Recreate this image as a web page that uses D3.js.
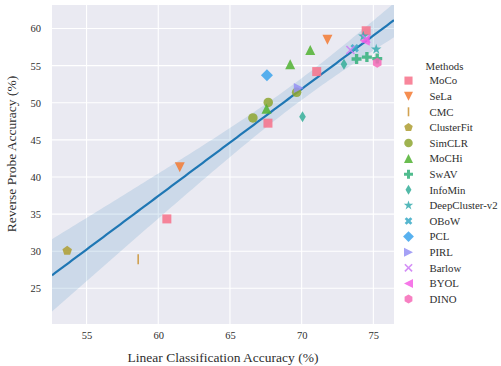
<!DOCTYPE html>
<html><head><meta charset="utf-8">
<script src="https://cdn.jsdelivr.net/npm/d3@7"></script>
<style>body{margin:0;background:#fff}svg{display:block}text{font-family:"Liberation Serif","DejaVu Serif",serif;fill:#2e2e2e}</style>
</head><body><svg id="c" width="501" height="366"></svg>
<script>
// ---- data ----
const methods = ["MoCo","SeLa","CMC","ClusterFit","SimCLR","MoCHi","SwAV","InfoMin","DeepCluster-v2","OBoW","PCL","PIRL","Barlow","BYOL","DINO"];
const markerTypes = ["s","v","|","p","o","^","P","d","*","X","D",">","x","<","h"];
const MoCo = [[74.5,59.7],[71.05,54.2],[67.65,47.25],[60.6,34.35]];
const SeLa = [[71.8,58.5],[61.5,41.3]];
const CMC = [[58.6,28.9]];
const ClusterFit = [[53.65,30.05]];
const SimCLR = [[69.65,51.4],[67.67,50.05],[66.6,47.95]];
const MoCHi = [[70.6,57.1],[69.2,55.2],[67.55,49.2]];
const SwAV = [[73.83,55.9],[74.55,56.15],[75.27,55.95]];
const InfoMin = [[72.95,55.2],[70.06,48.1]];
const DeepClusterV2 = [[74.3,58.95],[75.2,57.2]];
const OBoW = [[73.7,57.35]];
const PCL = [[67.58,53.7]];
const PIRL = [[69.8,52.0]];
const Barlow = [[73.4,57.1],[74.5,58.6]];
const BYOL = [[74.4,58.35]];
const DINO = [[75.27,55.4]];
const seriesValues = [MoCo,SeLa,CMC,ClusterFit,SimCLR,MoCHi,SwAV,InfoMin,DeepClusterV2,OBoW,PCL,PIRL,Barlow,BYOL,DINO];
const xTicks = [55,60,65,70,75];
const yTicks = [25,30,35,40,45,50,55,60];
const xLabel = "Linear Classification Accuracy (%)";
const yLabel = "Reverse Probe Accuracy (%)";
const legendTitle = "Methods";

// ---- HUSL palette (seaborn husl_palette) ----
function huslToRgb(H,S,L){
  const M=[[3.240969941904521,-1.537383177570093,-0.498610760293],[-0.96924363628087,1.87596750150772,0.041555057407175],[0.055630079696993,-0.20397695888897,1.056971514242878]];
  const kappa=903.2962962,eps=0.0088564516,refU=0.19783000664283,refV=0.46831999493879;
  function bounds(L){const s1=Math.pow(L+16,3)/1560896;const s2=s1>eps?s1:L/kappa;const r=[];
    for(let c=0;c<3;c++){const [m1,m2,m3]=M[c];for(let t=0;t<2;t++){const top1=(284517*m1-94839*m3)*s2;const top2=(838422*m3+769860*m2+731718*m1)*L*s2-769860*t*L;const bot=(632260*m3-126452*m2)*s2+126452*t;r.push([top1/bot,top2/bot]);}}return r;}
  const hr=H/360*2*Math.PI;let mx=Infinity;
  for(const [sl,ic] of bounds(L)){const len=ic/(Math.sin(hr)-sl*Math.cos(hr));if(len>=0)mx=Math.min(mx,len);}
  const C=mx/100*S;const U=C*Math.cos(hr),V=C*Math.sin(hr);
  const vu=U/(13*L)+refU,vv=V/(13*L)+refV;
  const Y=L<=8?L/kappa:Math.pow((L+16)/116,3);
  const X=0-(9*Y*vu)/((vu-4)*vv-vu*vv);
  const Z=(9*Y-15*vv*Y-vv*X)/(3*vv);
  const f=c=>c<=0.0031308?12.92*c:1.055*Math.pow(c,1/2.4)-0.055;
  const rgb=M.map(m=>Math.max(0,Math.min(1,f(m[0]*X+m[1]*Y+m[2]*Z))));
  return d3.rgb(rgb[0]*255,rgb[1]*255,rgb[2]*255).formatHex();
}
const palette = methods.map((m,i)=>{let h=(i/methods.length+0.01)%1;return huslToRgb(h*359,0.9*99,0.65*99);});

// ---- layout ----
const svg=d3.select("#c");
const x=d3.scaleLinear().domain([52.59,76.44]).range([52,394]);
const y=d3.scaleLinear().domain([20.19,63.17]).range([324,5]);
svg.append("defs").append("clipPath").attr("id","clip").append("rect")
  .attr("x",52).attr("y",5).attr("width",342).attr("height",319);
svg.append("rect").attr("x",52).attr("y",5).attr("width",342).attr("height",319).attr("fill","#eaeaf2");
const grid=svg.append("g");
grid.selectAll(".gx").data(xTicks).join("line").attr("x1",d=>x(d)).attr("x2",d=>x(d)).attr("y1",5).attr("y2",324).attr("stroke","#fff").attr("stroke-width",1.1);
grid.selectAll(".gy").data(yTicks).join("line").attr("y1",d=>y(d)).attr("y2",d=>y(d)).attr("x1",52).attr("x2",394).attr("stroke","#fff").attr("stroke-width",1.1);

// axes
const xa=svg.append("g").attr("transform","translate(0,324)").call(d3.axisBottom(x).tickValues(xTicks).tickSize(0).tickPadding(8));
const ya=svg.append("g").attr("transform","translate(52,0)").call(d3.axisLeft(y).tickValues(yTicks).tickSize(0).tickPadding(11));
[xa,ya].forEach(a=>{a.select(".domain").remove();a.selectAll("text").style("font-family","'Liberation Serif',serif").attr("font-size",10.5).attr("fill","#2e2e2e");});
svg.append("text").attr("x",223).attr("y",362).attr("text-anchor","middle").attr("font-size",13.5).text(xLabel);
svg.append("text").attr("transform","translate(16,154) rotate(-90)").attr("text-anchor","middle").attr("font-size",13.5).text(yLabel);

// regression (OLS with widened confidence band, approximating seaborn's bootstrap CI)
const pts=[];seriesValues.forEach(s=>s.forEach(p=>pts.push(p)));
const n=pts.length,mx=d3.mean(pts,p=>p[0]),my=d3.mean(pts,p=>p[1]);
let sxx=0,sxy=0;pts.forEach(p=>{sxx+=(p[0]-mx)**2;sxy+=(p[0]-mx)*(p[1]-my);});
const b=sxy/sxx,a=my-b*mx;
let sse=0;pts.forEach(p=>{sse+=(p[1]-a-b*p[0])**2;});
const se=Math.sqrt(sse/(n-2)),tq=2.7;
const xs=d3.range(0,101).map(i=>52.59+(76.44-52.59)*i/100);
const band=xs.map(v=>{const yh=a+b*v;const h=tq*se*Math.sqrt(1/n+(v-mx)**2/sxx);return [v,yh-h,yh+h];});
const reg=svg.append("g").attr("clip-path","url(#clip)");
reg.append("path").datum(band).attr("d",d3.area().x(d=>x(d[0])).y0(d=>y(d[1])).y1(d=>y(d[2]))).attr("fill","#1f77b4").attr("fill-opacity",0.15);
reg.append("path").datum(xs).attr("d",d3.line().x(v=>x(v)).y(v=>y(a+b*v))).attr("fill","none").attr("stroke","#1f77b4").attr("stroke-width",2.2);

// markers
function markerPath(t,r){
  const p=d3.path();
  const poly=(arr)=>{arr.forEach((q,i)=>i?p.lineTo(q[0],q[1]):p.moveTo(q[0],q[1]));p.closePath();};
  const reg=(k,R,off)=>{const arr=[];for(let i=0;i<k;i++){const ang=off+i*2*Math.PI/k;arr.push([R*Math.sin(ang),-R*Math.cos(ang)]);}poly(arr);};
  switch(t){
    case "s":{const s=r*0.9;poly([[-s,-s],[s,-s],[s,s],[-s,s]]);break;}
    case "v":poly([[0,r],[-r,-r],[r,-r]]);break;
    case "^":poly([[0,-r],[-r,r],[r,r]]);break;
    case ">":poly([[r,0],[-r,-r],[-r,r]]);break;
    case "<":poly([[-r,0],[r,-r],[r,r]]);break;
    case "p":reg(5,r,0);break;
    case "h":reg(6,r,0);break;
    case "o":p.arc(0,0,r*0.95,0,2*Math.PI);break;
    case "D":{const s=r*1.2;poly([[0,-s],[s,0],[0,s],[-s,0]]);break;}
    case "d":{const s=r*1.1;poly([[0,-s],[s*0.6,0],[0,s],[-s*0.6,0]]);break;}
    case "P":{const w=r/3;poly([[-w,-r],[w,-r],[w,-w],[r,-w],[r,w],[w,w],[w,r],[-w,r],[-w,w],[-r,w],[-r,-w],[-w,-w]]);break;}
    case "X":{const w=r*0.3,s=r*0.9,arr=[];const base=[[-w,-s],[w,-s],[w,-w],[s,-w],[s,w],[w,w],[w,s],[-w,s],[-w,w],[-s,w],[-s,-w],[-w,-w]];const c=Math.SQRT1_2;base.forEach(q=>arr.push([(q[0]-q[1])*c,(q[0]+q[1])*c]));poly(arr);break;}
    case "*":{const arr=[];for(let i=0;i<10;i++){const R=i%2?r*0.42:r*1.1;const ang=i*Math.PI/5;arr.push([R*Math.sin(ang),-R*Math.cos(ang)]);}poly(arr);break;}
    case "|":p.moveTo(0,-r);p.lineTo(0,r);break;
    case "x":{const s=r*0.8;p.moveTo(-s,-s);p.lineTo(s,s);p.moveTo(-s,s);p.lineTo(s,-s);break;}
  }
  return p.toString();
}
function drawMarker(g,t,col,r){
  const line=(t==="|"||t==="x");
  g.append("path").attr("d",markerPath(t,r))
   .attr("fill",line?"none":col).attr("stroke",line?col:"none").attr("stroke-width",line?1.6:0)
   .attr("opacity",0.85);
}
const pg=svg.append("g");
seriesValues.forEach((s,i)=>{
  s.forEach(p=>{const g=pg.append("g").attr("transform",`translate(${x(p[0])},${y(p[1])})`);drawMarker(g,markerTypes[i],palette[i],5);});
});

// legend
const lg=svg.append("g");
lg.append("text").attr("x",444.5).attr("y",69.5).attr("text-anchor","middle").attr("font-size",10.8).text(legendTitle);
methods.forEach((m,i)=>{
  const yy=80.6+i*15.6;
  const g=lg.append("g").attr("transform",`translate(408.5,${yy})`);
  drawMarker(g,markerTypes[i],palette[i],4.5);
  lg.append("text").attr("x",429.5).attr("y",yy+3.7).attr("font-size",10.8).text(m);
});
</script></body></html>
